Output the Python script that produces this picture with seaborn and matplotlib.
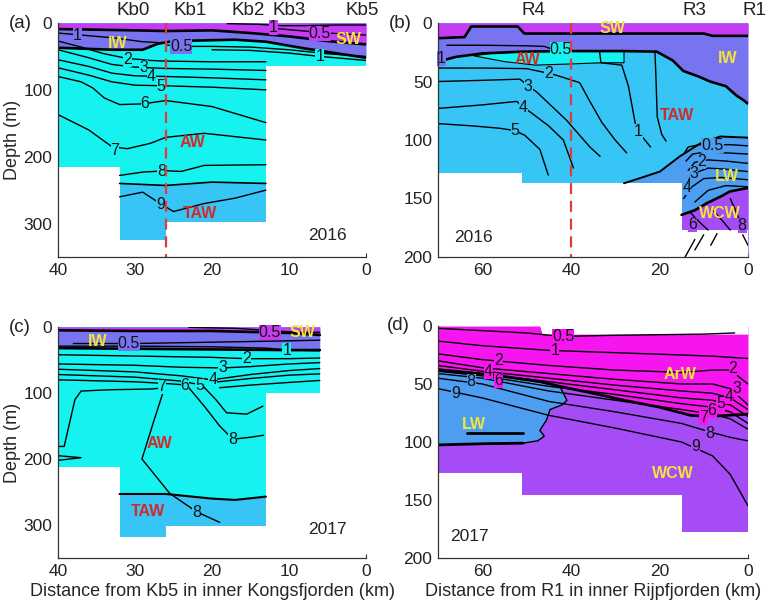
import numpy as np
import pandas as pd
import matplotlib
matplotlib.use("Agg")
import matplotlib.pyplot as plt
from matplotlib import transforms
import seaborn as sns

# ---------------- colours ----------------
C_SW = '#c63cf4'
C_IW = '#7873ee'
C_AW = '#16f2ef'
C_TAW = '#36c5f5'
C_LW = '#4d9df1'
C_WCW = '#a64cf6'
C_ARW = '#f614ef'
YEL = '#f2e43a'
RED = '#d22a2a'

# ---------------- panel (a) Kongsfjorden 2016 ----------------
a_sta_x = [30.3, 22.9, 15.3, 10.0, 0.5]
a_sta = ['Kb0', 'Kb1', 'Kb2', 'Kb3', 'Kb5']
a_bathy_x = [40, 32, 26, 13, 0]
a_bathy_d = [215, 325, 298, 65, 65]
a_sw_x = [40, 30, 26, 20, 15, 10, 5, 0]
a_sw_d = [9, 11, 12, 11, 15, 20, 27, 32]
a_iw_x = [40, 33, 29, 27, 25, 17, 13, 8, 0]
a_iw_d = [37, 40, 40, 31, 27, 25, 28, 38, 52]
a_taw_x = [32, 26, 20, 13]
a_taw_d = [240, 243, 238, 240]
a_iso = {
    't1_top': ([18, 14, 11, 8, 4, 0], [1, 2, 4, 4, 3, 3]),
    't05_top': ([12, 8, 5, 2, 0], [8, 12, 15, 17, 18]),
    't1_left': ([40, 37, 33, 29, 26], [15, 18, 22, 28, 30]),
    't05_mid': ([26, 24, 20, 15, 10, 5, 0], [33, 35, 35, 36, 40, 46, 50]),
    't1_right': ([20, 15, 10, 6, 3, 0], [40, 41, 45, 50, 53, 56]),
    't2': ([40, 37, 34, 31, 28, 26, 20, 13], [27, 36, 46, 53, 56, 57, 58, 58]),
    't3': ([40, 36, 33, 30, 26, 20, 13], [40, 52, 62, 66, 68, 69, 71]),
    't4': ([40, 36, 33, 30, 26, 20, 13], [55, 65, 75, 79, 80, 82, 85]),
    't5': ([40, 36, 33, 30, 26, 20, 13], [67, 78, 88, 93, 94, 96, 100]),
    't6': ([40, 37, 35.5, 34, 32, 29, 26, 20, 13], [80, 88, 97, 112, 122, 121, 116, 125, 149]),
    't7': ([40, 36, 33, 31, 28, 26, 21, 13], [137, 160, 185, 188, 180, 171, 165, 175]),
    't8': ([32, 29, 26, 24, 21, 13], [228, 223, 221, 222, 213, 212]),
    't9': ([32, 29, 27, 25, 21, 17, 13], [260, 253, 268, 282, 270, 262, 250]),
}
a_clab = [(12.0, 6, '1', C_SW), (6, 15, '0.5', C_SW), (37.5, 19, '1', C_IW),
          (24, 35, '0.5', C_IW), (6, 50, '1', C_AW), (31, 54, '2', C_AW),
          (28.9, 67, '3', C_AW), (27.9, 80, '4', C_AW), (26.6, 95, '5', C_AW),
          (28.7, 120, '6', C_AW), (32.6, 190, '7', C_AW), (26.5, 222, '8', C_AW),
          (26.7, 272, '9', C_TAW)]
a_wm = [(32.3, 30, 'IW', YEL), (2.3, 25, 'SW', YEL), (22.6, 178, 'AW', RED),
        (21.5, 285, 'TAW', RED)]

# ---------------- panel (b) Rijpfjorden 2016 ----------------
b_sta_x = [48.5, 12.0, -1.5]
b_sta = ['R4', 'R3', 'R1']
b_bathy_x = [70, 51, 15, 0]
b_bathy_d = [128, 137, 177, 177]
b_sw_x = [70, 64, 62.5, 52, 50.5, 30, 10, 8, 0]
b_sw_d = [13, 12, 3, 3, 9, 9, 9, 11, 11]
b_iw_x = [70, 66, 60, 51, 40, 28, 20.6, 17, 14.6, 11, 8.6, 5, 2.6, 1, 0]
b_iw_d = [33, 29, 26, 24.5, 24, 24, 24.5, 32, 41, 46, 50, 54, 62, 66, 69]
b_aw_x = [62, 58, 51, 40, 28, 28, 33, 40, 48, 55, 62]
b_aw_d = [28, 26, 24.5, 24, 24, 34, 34, 35, 36, 33, 28]
b_lw_x = [28, 24.4, 19.9, 15.4, 10.8, 6.3, 0]
b_lw_d = [137, 132.6, 127, 114, 103, 97, 98]
b_wcw_x = [15, 12, 9.3, 6, 4.1, 0]
b_wcw_d = [164, 160, 154, 148, 144, 141]
b_iso = {
    't1_iw': ([68, 60, 50, 46, 44.5], [19, 19, 19.5, 20, 22]),
    't2': ([70, 60, 50, 45.0, 43, 38, 36, 33, 30, 27.4], [38.5, 38.5, 39, 43, 45, 51, 65, 85, 100, 111]),
    't3': ([70, 60, 51.5, 49.6, 47.7, 41, 35.7, 33.4], [50, 49, 48, 54, 59, 83, 106, 114]),
    't4': ([70, 60, 52.2, 50.8, 49.2, 45, 41.7, 39.4], [73, 70, 67, 72, 76, 88, 100, 124]),
    't5': ([70, 62, 56, 52.6, 50.4, 47, 45.1], [86, 88, 90, 92, 96, 108, 130]),
    't1': ([33.5, 33.2, 28.5, 27, 25.5, 24.8, 22], [25, 34, 36, 54, 85, 93, 106]),
    't05': ([21, 20.8, 20.5, 19.5, 18.5], [26, 45, 80, 95, 101]),
    'lw1': ([14.5, 13.5, 11, 8, 4, 0], [112, 106, 104, 104, 104, 105]),
    'lw2': ([14, 12.5, 9, 5, 0], [118, 112, 110, 111, 112]),
    'lw3': ([13.5, 12, 9, 5, 0], [126, 119, 117, 118, 120]),
    'lw4': ([14, 12.5, 9, 5, 0], [138, 129, 124, 125, 127]),
    'lw5': ([14.5, 13, 10, 6, 0], [150, 141, 133, 132, 134]),
    'lw6': ([12, 9, 5, 0], [153, 143, 139, 140]),
    'w1': ([13, 11, 9], [162, 170, 177]),
    'w2': ([8, 6, 4], [160, 168, 177]),
    'w3': ([4, 2.5, 1], [150, 163, 177]),
    'd1': ([14.2, 12], [200, 185]),
    'd2': ([12, 10], [194, 181]),
    'd3': ([8.4, 7], [190, 180]),
    'd4': ([1.2, 0], [181, 190]),
}
b_clab = [(69.2, 30, '1', C_IW), (42.3, 23, '0.5', C_AW), (45.0, 43, '2', C_TAW),
          (49.6, 54.5, '3', C_TAW), (50.8, 72, '4', C_TAW), (52.6, 92, '5', C_TAW),
          (24.8, 93, '1', C_TAW), (8.0, 105, '0.5', C_LW), (10.4, 118, '2', C_LW),
          (12.2, 129, '3', C_LW), (13.8, 141, '4', C_LW), (12.6, 172, '6', C_WCW),
          (1.3, 173, '8', C_WCW)]
b_wm = [(30.5, 5, 'SW', YEL), (4.5, 30, 'IW', YEL), (49.8, 31, 'AW', RED),
        (16, 79, 'TAW', RED), (4.8, 131.5, 'LW', YEL), (6.4, 163, 'WCW', YEL)]

# ---------------- panel (c) Kongsfjorden 2017 ----------------
c_bathy_x = [40, 32, 26, 13, 6]
c_bathy_d = [212, 318, 301, 100, 100]
c_sw_x = [40, 30, 20, 10, 6]
c_sw_d = [5, 6, 6, 9, 12]
c_iw_x = [40, 30, 20, 10, 6]
c_iw_d = [32, 33, 34, 35, 35]
c_taw_x = [32, 26, 20, 17, 13]
c_taw_d = [253, 253, 260, 262, 257]
c_iso = {
    't05a': ([23, 17, 13, 9, 6], [0.5, 2, 5, 8, 8]),
    't05b': ([38, 33, 30, 25, 15, 6], [25, 25, 25, 24, 22, 20]),
    't1': ([40, 30, 20, 13, 10, 6], [29, 29, 30, 32, 35, 36]),
    't2': ([40, 30, 20, 15.5, 10, 6], [42, 44, 46, 48, 48, 47]),
    't3': ([40, 30, 24, 18.6, 15, 10, 6], [56, 58, 61, 62, 60, 56, 54]),
    't4': ([40, 30, 24, 20, 15, 10, 6], [64, 68, 74, 80, 72, 66, 63]),
    't5': ([40, 30, 24, 21.3, 19.5, 18.1, 15.5, 13.4], [72, 76, 82, 88, 110, 130, 132, 120]),
    't5r': ([20, 15, 10, 6], [84, 78, 73, 71]),
    't6': ([40, 30, 25.5, 23.3, 21, 19, 17.3, 15, 13.3], [80, 83, 86, 88, 120, 150, 170, 167, 164]),
    't6r': ([19, 15, 10, 6], [92, 88, 84, 81]),
    't7a': ([40, 39.2, 37.8, 37, 33, 28, 27], [181, 181, 110, 97, 95, 94, 93]),
    't7b': ([26.3, 27.6, 29.1, 25.5, 22, 19], [97, 144, 200, 252, 280, 296]),
    'lens': ([40, 37, 40], [195, 198, 202]),
}
c_clab = [(12.5, 8, '0.5', C_SW), (30.8, 25, '0.5', C_IW), (10.3, 35, '1', C_AW),
          (15.5, 48, '2', C_AW), (18.6, 62, '3', C_AW), (19.9, 80, '4', C_AW),
          (21.6, 88, '5', C_AW), (23.5, 88, '6', C_AW), (26.5, 90, '7', C_AW),
          (17.3, 171, '8', C_AW), (22, 281, '8', C_TAW)]
c_wm = [(34.8, 22, 'IW', YEL), (8.2, 8.5, 'SW', YEL), (26.8, 177, 'AW', RED),
        (28.3, 280, 'TAW', RED)]

# ---------------- panel (d) Rijpfjorden 2017 ----------------
d_bathy_x = [70, 51, 15, 0]
d_bathy_d = [127, 146, 178, 178]
d_top_x = [70, 47, 46.5, 0]
d_top_d = [0, 0, 7, 7]
d_arw_x = [70, 58, 47, 42.5, 35, 28, 20, 13, 9, 0]
d_arw_d = [38, 42, 48, 52, 58, 64, 70, 77, 78, 76]
d_lw_x = [70, 58, 47, 42.5, 40.9, 42, 44.7, 45.5, 47, 46, 47.5, 50.8, 60, 70]
d_lw_d = [38, 42, 48, 52, 64, 68, 72, 81, 90, 95, 99, 101, 101.5, 102.5]
d_lwbot_x = [70, 60, 50.8]
d_lwbot_d = [102.5, 101.5, 101]
d_lwin_x = [63.5, 50.7]
d_lwin_d = [92, 92]
d_iso_x = [70, 60, 45, 30, 15, 8, 4, 0]
d_t05_x = [70, 60, 50, 42, 30, 10, 3]
d_t05_d = [2, 4, 6, 9, 8, 7, 6]
d_t1 = [13, 17, 21, 23, 25, 26, 27, 28]
d_t2 = [24, 29, 34, 38, 40, 38, 38, 50]
d_t3 = [30, 36, 41, 46, 50, 50, 54, 68]
d_t4 = [34, 39, 45, 51, 56, 58, 62, 72]
d_t5 = [37, 41, 48, 55, 62, 64, 68, 78]
d_t6 = [39, 43, 52, 59, 67, 70, 74, 84]
d_t7 = [41, 45, 56, 64, 72, 76, 80, 89]
d_t8 = [45, 50, 65, 74, 84, 92, 96, 99]
d_t9 = [54, 62, 77, 88, 100, 112, 128, 155]
d_clab = [(41.7, 9, '0.5', C_ARW), (43.6, 21, '1', C_ARW), (56.3, 30, '2', C_ARW),
          (58.6, 39, '4', C_ARW), (56.3, 47, '6', C_ARW), (62.5, 48, '8', C_LW),
          (66.0, 58, '9', C_LW), (3.4, 37, '2', C_ARW), (2.4, 54, '3', C_ARW),
          (4.3, 61, '4', C_ARW), (6.2, 67, '5', C_ARW), (8.1, 73, '6', C_ARW),
          (10.0, 79, '7', C_ARW), (8.6, 93, '8', C_WCW), (11.8, 104, '9', C_WCW)]
d_wm = [(15.4, 42, 'ArW', YEL), (62, 85, 'LW', YEL), (16.9, 127, 'WCW', YEL)]

# ---------------- style ----------------
sns.set_theme(style='ticks')
plt.rcParams['font.family'] = ['Liberation Sans', 'DejaVu Sans']
plt.rcParams['axes.edgecolor'] = '#333333'
plt.rcParams['text.color'] = '#222222'
plt.rcParams['xtick.color'] = '#333333'
plt.rcParams['ytick.color'] = '#333333'
plt.rcParams['xtick.labelcolor'] = '#222222'
plt.rcParams['ytick.labelcolor'] = '#222222'

fig = plt.figure(figsize=(7.78, 6.14), dpi=100)
W, H = 778.0, 614.0


def make_ax(l, r, t, b):
    return fig.add_axes([l / W, 1 - b / H, (r - l) / W, (b - t) / H])


ax_a = make_ax(58, 366, 23, 257)
ax_b = make_ax(438, 748, 23, 257)
ax_c = make_ax(58, 366, 327, 558)
ax_d = make_ax(438, 748, 326, 558)


def draw_lines(ax, lines, lw=1.0, z=3):
    rows = [(k, x, d) for k, (xs, ds) in lines.items() for x, d in zip(xs, ds)]
    df = pd.DataFrame(rows, columns=['line', 'dist', 'depth'])
    sns.lineplot(data=df, x='dist', y='depth', units='line', estimator=None,
                 sort=False, color='black', linewidth=lw, ax=ax, zorder=z,
                 legend=False)


def labels(ax, clab, wm):
    for x, d, s, bg in clab:
        ax.text(x, d, s, ha='center', va='center', fontsize=11.5, zorder=4,
                color='#111111',
                bbox=dict(boxstyle='square,pad=0.0', fc=bg, ec='none'))
    for x, d, s, c in wm:
        ax.text(x, d, s, ha='center', va='center', fontsize=11.5,
                fontweight='bold', color=c, zorder=4.5)


def mask(ax, bx, bd):
    ax.fill_between(bx, bd, 500, step='post', color='white', lw=0, zorder=2)


def finish(ax, xlim, ylim, xt, yt, year, yx, yd):
    ax.set_xlim(*xlim)
    ax.set_ylim(*ylim)
    ax.set_xticks(xt)
    ax.set_yticks(yt)
    ax.set_xlabel('')
    ax.set_ylabel('')
    ax.tick_params(direction='in', length=3, width=0.8, labelsize=12.5, pad=4)
    sns.despine(ax=ax)
    for s in ['left', 'bottom']:
        ax.spines[s].set_linewidth(0.9)
        ax.spines[s].set_zorder(6)
    ax.text(yx, yd, year, fontsize=12.5, ha='center', va='center', zorder=4)


def stations(ax, xs, names):
    tr = transforms.blended_transform_factory(ax.transData, ax.transAxes)
    for x, n in zip(xs, names):
        ax.text(x, 1.015, n, transform=tr, ha='center', va='bottom',
                fontsize=13.5, clip_on=False)


def red_line(ax, x, ymax):
    ax.plot([x, x], [0, ymax], color='#e03a3a', lw=1.6, ls=(0, (5, 3)),
            zorder=5, clip_on=False)


# ---------------- (a) ----------------
ax = ax_a
ax.fill_between([40, 0], 0, 500, color=C_AW, lw=0, zorder=1)
ax.fill_between(a_taw_x, a_taw_d, 500, color=C_TAW, lw=0, zorder=1.1)
ax.fill_between(a_iw_x, 0, a_iw_d, color=C_IW, lw=0, zorder=1.2)
ax.fill_between(a_sw_x, 0, a_sw_d, color=C_SW, lw=0, zorder=1.3)
mask(ax, a_bathy_x, a_bathy_d)
draw_lines(ax, a_iso, 1.0)
draw_lines(ax, {'taw': (a_taw_x, a_taw_d)}, 1.2)
draw_lines(ax, {'sw': (a_sw_x, a_sw_d), 'iw': (a_iw_x, a_iw_d)}, 1.9, 3.5)
labels(ax, a_clab, a_wm)
finish(ax, (40, 0), (350, 0), [40, 30, 20, 10, 0], [0, 100, 200, 300], '2016', 5, 318)
stations(ax, a_sta_x, a_sta)
red_line(ax, 26, 350)
ax.set_ylabel('Depth (m)', fontsize=13, labelpad=2)

# ---------------- (b) ----------------
ax = ax_b
ax.fill_between([70, 0], 0, 500, color=C_TAW, lw=0, zorder=1)
ax.fill_between(b_iw_x, 0, b_iw_d, color=C_IW, lw=0, zorder=1.1)
ax.fill_between(b_sw_x, 0, b_sw_d, color=C_SW, lw=0, zorder=1.2)
ax.fill(b_aw_x, b_aw_d, fc=C_AW, ec='black', lw=0.8, zorder=1.3)
ax.fill_between(b_lw_x, b_lw_d, 500, color=C_LW, lw=0, zorder=1.4)
ax.fill_between(b_wcw_x, b_wcw_d, 500, color=C_WCW, lw=0, zorder=1.5)
mask(ax, b_bathy_x, b_bathy_d)
draw_lines(ax, b_iso, 1.0)
draw_lines(ax, {'lw': (b_lw_x, b_lw_d)}, 1.4, 3.5)
draw_lines(ax, {'sw': (b_sw_x, b_sw_d), 'iw': (b_iw_x, b_iw_d),
                'wcw': (b_wcw_x, b_wcw_d)}, 1.9, 3.5)
labels(ax, b_clab, b_wm)
finish(ax, (70, 0), (200, 0), [60, 40, 20, 0], [0, 50, 100, 150, 200], '2016', 62, 183)
stations(ax, b_sta_x, b_sta)
red_line(ax, 40, 200)

# ---------------- (c) ----------------
ax = ax_c
ax.fill_between([40, 6], 0, 500, color=C_AW, lw=0, zorder=1)
ax.fill_between(c_taw_x, c_taw_d, 500, color=C_TAW, lw=0, zorder=1.1)
ax.fill_between(c_iw_x, 0, c_iw_d, color=C_IW, lw=0, zorder=1.2)
ax.fill_between(c_sw_x, 0, c_sw_d, color=C_SW, lw=0, zorder=1.3)
mask(ax, c_bathy_x, c_bathy_d)
draw_lines(ax, c_iso, 1.0)
draw_lines(ax, {'taw': (c_taw_x, c_taw_d)}, 1.5, 3.5)
draw_lines(ax, {'sw': (c_sw_x, c_sw_d), 'iw': (c_iw_x, c_iw_d)}, 1.9, 3.5)
labels(ax, c_clab, c_wm)
finish(ax, (40, 0), (350, 0), [40, 30, 20, 10, 0], [0, 100, 200, 300], '2017', 5, 307)
ax.set_ylabel('Depth (m)', fontsize=13, labelpad=2)
ax.set_xlabel('Distance from Kb5 in inner Kongsfjorden (km)', fontsize=13, labelpad=3)

# ---------------- (d) ----------------
ax = ax_d
ax.fill_between([70, 0], 0, 500, color=C_WCW, lw=0, zorder=1)
ax.fill_between(d_arw_x, 0, d_arw_d, color=C_ARW, lw=0, zorder=1.1)
ax.fill(d_lw_x, d_lw_d, fc=C_LW, ec='black', lw=1.0, zorder=1.2)
mask(ax, d_bathy_x, d_bathy_d)
ax.fill_between(d_top_x, -20, d_top_d, color='white', lw=0, zorder=2)
d_lines = {'t05': (d_t05_x, d_t05_d)}
for name, arr in [('t1', d_t1), ('t2', d_t2), ('t3', d_t3), ('t4', d_t4),
                  ('t5', d_t5), ('t6', d_t6), ('t7', d_t7), ('t8', d_t8),
                  ('t9', d_t9)]:
    d_lines[name] = (d_iso_x, arr)
draw_lines(ax, d_lines, 1.0)
draw_lines(ax, {'arw': (d_arw_x, d_arw_d), 'lwb': (d_lwbot_x, d_lwbot_d),
                'lwi': (d_lwin_x, d_lwin_d)}, 2.0, 3.5)
labels(ax, d_clab, d_wm)
finish(ax, (70, 0), (200, 0), [60, 40, 20, 0], [0, 50, 100, 150, 200], '2017', 62.8, 181.6)
ax.set_xlabel('Distance from R1 in inner Rijpfjorden (km)', fontsize=13, labelpad=3)

# panel letters
fig.text(20 / W, 1 - 23 / H, '(a)', fontsize=13.5, ha='center', va='center')
fig.text(400 / W, 1 - 23 / H, '(b)', fontsize=13.5, ha='center', va='center')
fig.text(20 / W, 1 - 327 / H, '(c)', fontsize=13.5, ha='center', va='center')
fig.text(398 / W, 1 - 326 / H, '(d)', fontsize=13.5, ha='center', va='center')

fig.savefig('out.png', dpi=100)
